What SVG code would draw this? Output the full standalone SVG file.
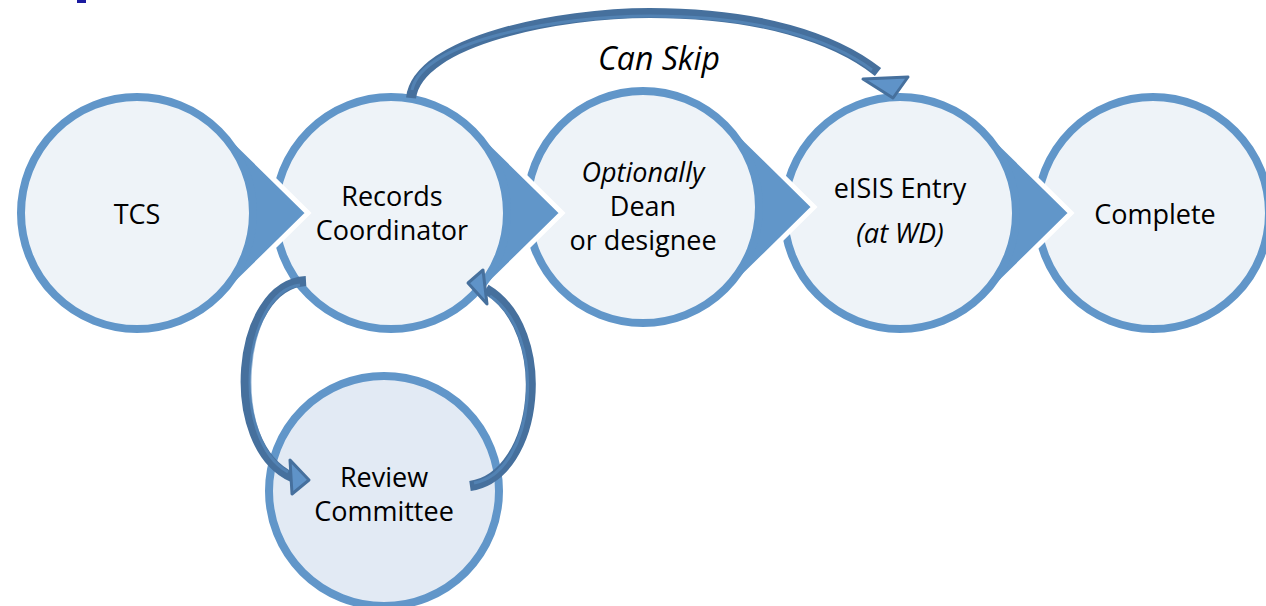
<svg xmlns="http://www.w3.org/2000/svg" width="1266" height="606" viewBox="0 0 1266 606">
<style>
.drop{fill:#6196C9;stroke:#FFFFFF;stroke-width:5;stroke-linejoin:miter}
.circ{fill:#EEF3F8;stroke:#6196C9;stroke-width:8}
.rev{fill:#E2EAF4;stroke:#6196C9;stroke-width:8}
.t{font-family:"Open Sans","Noto Sans","Liberation Sans",sans-serif;font-size:27px;fill:#000;text-anchor:middle}
.i{font-style:italic}
.shaft{fill:none;stroke:#46709D;stroke-width:10;stroke-linecap:butt}
.hl{fill:none;stroke:#5A8DC2;stroke-width:3;stroke-linecap:butt;opacity:0.6}
.head{fill:#5F93C8;stroke:#46709D;stroke-width:3;stroke-linejoin:round}
</style>
<rect x="77" y="0" width="9" height="3" fill="#1A1AA0"/>
<g id="node-complete">
<circle class="circ" cx="1153" cy="213" r="116"/>
<text class="t" x="1155" y="224">Complete</text>
</g>
<g id="node-eisis">
<path class="drop" d="M984.2 127.6 L1071 213 L984.2 298.4 A120 120 0 1 1 984.2 127.6 Z"/>
<circle class="circ" cx="900" cy="213" r="116"/>
<text class="t" x="900" y="198">eISIS Entry</text>
<text class="t i" x="900" y="243">(at WD)</text>
</g>
<g id="node-dean">
<path class="drop" d="M727.2 121.6 L814 207 L727.2 292.4 A120 120 0 1 1 727.2 121.6 Z"/>
<circle class="circ" cx="643" cy="207" r="116"/>
<text class="t i" x="643" y="182">Optionally</text>
<text class="t" x="643" y="216">Dean</text>
<text class="t" x="643" y="250">or designee</text>
</g>
<g id="node-records">
<path class="drop" d="M475.2 127.6 L562 213 L475.2 298.4 A120 120 0 1 1 475.2 127.6 Z"/>
<circle class="circ" cx="391" cy="213" r="116"/>
<text class="t" x="392" y="206">Records</text>
<text class="t" x="392" y="240">Coordinator</text>
</g>
<g id="node-tcs">
<path class="drop" d="M221.2 127.6 L308 213 L221.2 298.4 A120 120 0 1 1 221.2 127.6 Z"/>
<circle class="circ" cx="137" cy="213" r="116"/>
<text class="t" x="137" y="224">TCS</text>
</g>
<g id="node-review">
<circle class="rev" cx="384" cy="491" r="115"/>
<text class="t" x="384" y="487">Review</text>
<text class="t" x="384" y="521">Committee</text>
</g>
<g id="connectors">
<path class="shaft" d="M411 98 C418 40 560 13 650 13 C760 13 835 38 878 72"/>
<path class="hl" d="M412 90 C422 40 560 16 650 16 C760 16 832 40 872 70"/>
<polygon class="head" points="863,79 908,77 893,98"/>
<text class="t i" x="659" y="70" style="font-size:32px">Can Skip</text>
<path class="shaft" d="M306 281 C235 285 222 445 292 477"/>
<path class="hl" d="M300 285 C242 292 230 440 288 472"/>
<polygon class="head" points="290,460 292,494 309,480"/>
<path class="shaft" d="M470 486 C540 476 555 330 486 289"/>
<path class="hl" d="M474 483 C536 472 548 335 490 296"/>
<polygon class="head" points="483,270 487,304 468,283"/>
</g>
</svg>
